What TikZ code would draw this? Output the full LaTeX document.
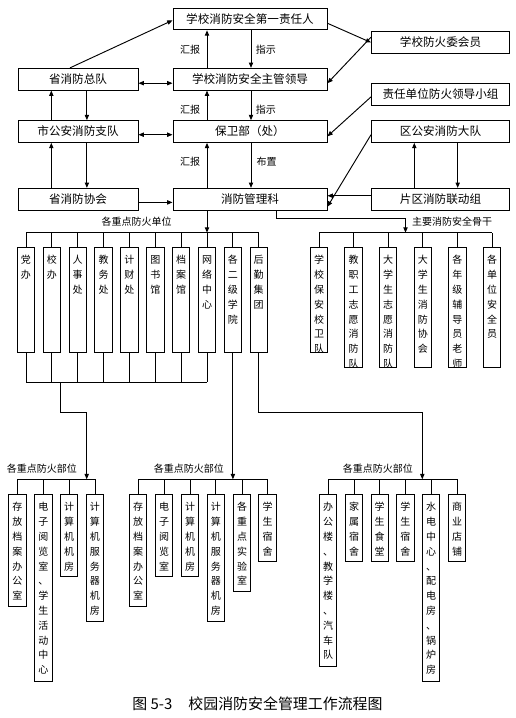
\documentclass[tikz,border=0pt]{standalone}
\usepackage{fontspec}
\setmainfont{Noto Sans CJK SC}
\usetikzlibrary{arrows.meta}

\tikzset{
  box/.style={draw, line width=0.7pt, inner sep=0pt, minimum height=16.3pt, font=\fontsize{8.7}{10}\selectfont},
  midbox/.style={box, minimum width=115.5pt},
  leftbox/.style={box, minimum width=90pt},
  rightbox/.style={box, minimum width=103.5pt},
  vbox/.style={draw, line width=0.7pt, anchor=north, inner sep=0pt, minimum width=13pt,
    font=\fontsize{7.5}{11.1}\selectfont, text height=12.1pt, text depth=#1*0.75pt-12.1pt,
    execute at begin node={\vtop\bgroup\hsize=10pt\parindent=0pt\centering},
    execute at end node={\par\egroup}},
  tag/.style={inner sep=0pt, font=\fontsize{7.5}{9}\selectfont},
  link/.style={line width=0.7pt, -{Triangle[length=4pt,width=3.2pt]}},
  both/.style={line width=0.7pt, {Triangle[length=4pt,width=3.2pt]}-{Triangle[length=4pt,width=3.2pt]}},
  bus/.style={line width=0.7pt},
}

\begin{document}
\begin{tikzpicture}[x=0.75pt,y=0.75pt,yscale=-1,xscale=1]
\useasboundingbox (0,0) rectangle (516,718);

%top boxes
\node[midbox] (first) at (250,19) {学校消防安全第一责任人};
\node[rightbox] (wei) at (440.5,42.5) {学校防火委会员};
\node[leftbox] (zongdui) at (78,79.2) {省消防总队};
\node[midbox] (zhuguan) at (250,79.2) {学校消防安全主管领导};
\node[rightbox] (xiaozu) at (440.5,94.2) {责任单位防火领导小组};
\node[leftbox] (zhidui) at (78,131.5) {市公安消防支队};
\node[midbox] (baowei) at (250,131.5) {保卫部（处）};
\node[rightbox] (dadui) at (440.5,131.5) {区公安消防大队};
\node[leftbox] (xiehui) at (78,199.2) {省消防协会};
\node[midbox] (guanli) at (250,199.2) {消防管理科};
\node[rightbox] (liandong) at (440.5,199.2) {片区消防联动组};

%labels
\node[tag] (hb1) at (190,49.5) {汇报};
\node[tag] (zs1) at (265.8,49.5) {指示};
\node[tag] (hb2) at (190,110) {汇报};
\node[tag] (zs2) at (265.8,110) {指示};
\node[tag] (hb3) at (190,161.7) {汇报};
\node[tag] (bz3) at (266.7,161.7) {布置};
\node[tag] (danwei) at (136.7,221.7) {各重点防火单位};
\node[tag] (gugan) at (452.2,221.7) {主要消防安全骨干};
\node[tag] (buwei1) at (42,469) {各重点防火部位};
\node[tag] (buwei2) at (188.8,469) {各重点防火部位};
\node[tag] (buwei3) at (377.8,469) {各重点防火部位};

%units
\node[vbox=105] (d1) at (26,247.3) {党\\办};
\node[vbox=105] (d2) at (51.9,247.3) {校\\办};
\node[vbox=105] (d3) at (77.7,247.3) {人\\事\\处};
\node[vbox=105] (d4) at (103.6,247.3) {教\\务\\处};
\node[vbox=105] (d5) at (129.4,247.3) {计\\财\\处};
\node[vbox=105] (d6) at (155.3,247.3) {图\\书\\馆};
\node[vbox=105] (d7) at (181.2,247.3) {档\\案\\馆};
\node[vbox=105] (d8) at (207,247.3) {网\\络\\中\\心};
\node[vbox=105] (d9) at (232.9,247.3) {各\\二\\级\\学\\院};
\node[vbox=105] (d10) at (258.7,247.3) {后\\勤\\集\\团};

%backbone
\node[vbox=105] (g1) at (319,247.3) {学\\校\\保\\安\\校\\卫\\队};
\node[vbox=120] (g2) at (353.6,247.3) {教\\职\\工\\志\\愿\\消\\防\\队};
\node[vbox=120] (g3) at (388.2,247.3) {大\\学\\生\\志\\愿\\消\\防\\队};
\node[vbox=120] (g4) at (422.8,247.3) {大\\学\\生\\消\\防\\协\\会};
\node[vbox=120] (g5) at (457.4,247.3) {各\\年\\级\\辅\\导\\员\\老\\师};
\node[vbox=120] (g6) at (492,247.3) {各\\单\\位\\安\\全\\员};

%parts, left
\node[vbox=111.7] (a1) at (17.5,494.3) {存\\放\\档\\案\\办\\公\\室};
\node[vbox=186.7] (a2) at (43.3,494.3) {电\\子\\阅\\览\\室\\、\\学\\生\\活\\动\\中\\心};
\node[vbox=81.7] (a3) at (69,494.3) {计\\算\\机\\机\\房};
\node[vbox=126.7] (a4) at (95,494.3) {计\\算\\机\\服\\务\\器\\机\\房};
%parts, middle
\node[vbox=111.7] (b1) at (138,494.3) {存\\放\\档\\案\\办\\公\\室};
\node[vbox=81.7] (b2) at (164,494.3) {电\\子\\阅\\览\\室};
\node[vbox=81.7] (b3) at (190,494.3) {计\\算\\机\\机\\房};
\node[vbox=126.7] (b4) at (215.8,494.3) {计\\算\\机\\服\\务\\器\\机\\房};
\node[vbox=96.7] (b5) at (242,494.3) {各\\重\\点\\实\\验\\室};
\node[vbox=66.7] (b6) at (267.5,494.3) {学\\生\\宿\\舍};
%parts, right
\node[vbox=171.7] (c1) at (328,494.3) {办\\公\\楼\\、\\教\\学\\楼\\、\\汽\\车\\队};
\node[vbox=66.7] (c2) at (354,494.3) {家\\属\\宿\\舍};
\node[vbox=66.7] (c3) at (379.7,494.3) {学\\生\\食\\堂};
\node[vbox=66.7] (c4) at (405.3,494.3) {学\\生\\宿\\舍};
\node[vbox=186.7] (c5) at (431,494.3) {水\\电\\中\\心\\、\\配\\电\\房\\、\\锅\\炉\\房};
\node[vbox=66.7] (c6) at (457,494.3) {商\\业\\店\\铺};

\node[inner sep=0pt, font=\fontsize{11.2}{13}\selectfont] (cap) at (257.5,703.3) {图 5-3\hspace{12pt}校园消防安全管理工作流程图};

%guide lines
\coordinate (hb) at (207,0);
\coordinate (zs) at (251,0);
\coordinate (up) at (51.3,0);
\coordinate (dn) at (86.9,0);
\coordinate (rup) at (414.3,0);
\coordinate (rdn) at (457.7,0);

%middle column
\draw[link] (zhuguan.north -| hb) -- (first.south -| hb);
\draw[link] (first.south -| zs) -- (zhuguan.north -| zs);
\draw[link] (baowei.north -| hb) -- (zhuguan.south -| hb);
\draw[link] (zhuguan.south -| zs) -- (baowei.north -| zs);
\draw[link] (guanli.north -| hb) -- (baowei.south -| hb);
\draw[link] (baowei.south -| zs) -- (guanli.north -| zs);

%left column
\draw[link] (zhidui.north -| up) -- (zongdui.south -| up);
\draw[link] (zongdui.south -| dn) -- (zhidui.north -| dn);
\draw[link] (xiehui.north -| up) -- (zhidui.south -| up);
\draw[link] (zhidui.south -| dn) -- (xiehui.north -| dn);

%right column
\draw[link] (liandong.north -| rup) -- (dadui.south -| rup);
\draw[link] (dadui.south -| rdn) -- (liandong.north -| rdn);

%across
\draw[both] ([yshift=3pt]zongdui.east) -- ([yshift=3pt]zhuguan.west);
\draw[both] ([yshift=2.4pt]zhidui.east) -- ([yshift=2.4pt]baowei.west);
\draw[link] ([yshift=2.4pt]xiehui.east) -- ([yshift=2.4pt]guanli.west);
\draw[link] ([yshift=-2.6pt]liandong.west) -- ([yshift=-2.6pt]guanli.east);

%slanted
\draw[link] ([xshift=-6pt]zongdui.north) -- ([yshift=1pt]first.west);
\draw[link] ([yshift=3.2pt]first.east) -- (wei.west);
\draw[link] ([yshift=-4pt]wei.west) -- ([yshift=3pt]zhuguan.east);
\draw[link] ([yshift=2pt]xiaozu.west) -- ([yshift=3.6pt]baowei.east);
\draw[link] ([yshift=2.4pt]dadui.west) -- ([yshift=5.6pt]guanli.east);

%bus to units
\coordinate (busA) at (207,232.7);
\draw[link] (guanli.south -| busA) -- (busA);
\draw[bus] (d1.north |- busA) -- (d10.north |- busA);
\draw[bus] (d1.north) -- (d1.north |- busA);
\draw[bus] (d2.north) -- (d2.north |- busA);
\draw[bus] (d3.north) -- (d3.north |- busA);
\draw[bus] (d4.north) -- (d4.north |- busA);
\draw[bus] (d5.north) -- (d5.north |- busA);
\draw[bus] (d6.north) -- (d6.north |- busA);
\draw[bus] (d7.north) -- (d7.north |- busA);
\draw[bus] (d8.north) -- (d8.north |- busA);
\draw[bus] (d9.north) -- (d9.north |- busA);
\draw[bus] (d10.north) -- (d10.north |- busA);

%bus to backbone
\coordinate (kneeB) at (276.7,218.3);
\coordinate (busB) at (405.5,232.7);
\draw[link] (guanli.south -| kneeB) -- (kneeB) -| (busB);
\draw[bus] (g1.north |- busB) -- (g6.north |- busB);
\draw[bus] (g1.north) -- (g1.north |- busB);
\draw[bus] (g2.north) -- (g2.north |- busB);
\draw[bus] (g3.north) -- (g3.north |- busB);
\draw[bus] (g4.north) -- (g4.north |- busB);
\draw[bus] (g5.north) -- (g5.north |- busB);
\draw[bus] (g6.north) -- (g6.north |- busB);

%units down to parts
\coordinate (busC) at (60.7,382.3);
\coordinate (kneeC) at (60.7,412.3);
\coordinate (busL) at (86.7,479.3);
\coordinate (busM) at (232.9,479.3);
\coordinate (busR) at (422.3,479.3);
\draw[bus] (d1.south |- busC) -- (d8.south |- busC);
\draw[bus] (d1.south) -- (d1.south |- busC);
\draw[bus] (d2.south) -- (d2.south |- busC);
\draw[bus] (d3.south) -- (d3.south |- busC);
\draw[bus] (d4.south) -- (d4.south |- busC);
\draw[bus] (d5.south) -- (d5.south |- busC);
\draw[bus] (d6.south) -- (d6.south |- busC);
\draw[bus] (d7.south) -- (d7.south |- busC);
\draw[bus] (d8.south) -- (d8.south |- busC);
\draw[link] (busC) -- (kneeC) -| (busL);
\draw[link] (d9.south) -- (busM);
\draw[link] (d10.south) -- (d10.south |- kneeC) -| (busR);

%bus to parts
\draw[bus] (a1.north |- busL) -- (a4.north |- busL);
\draw[bus] (a1.north) -- (a1.north |- busL);
\draw[bus] (a2.north) -- (a2.north |- busL);
\draw[bus] (a3.north) -- (a3.north |- busL);
\draw[bus] (a4.north) -- (a4.north |- busL);
\draw[bus] (b1.north |- busM) -- (b6.north |- busM);
\draw[bus] (b1.north) -- (b1.north |- busM);
\draw[bus] (b2.north) -- (b2.north |- busM);
\draw[bus] (b3.north) -- (b3.north |- busM);
\draw[bus] (b4.north) -- (b4.north |- busM);
\draw[bus] (b5.north) -- (b5.north |- busM);
\draw[bus] (b6.north) -- (b6.north |- busM);
\draw[bus] (c1.north |- busR) -- (c6.north |- busR);
\draw[bus] (c1.north) -- (c1.north |- busR);
\draw[bus] (c2.north) -- (c2.north |- busR);
\draw[bus] (c3.north) -- (c3.north |- busR);
\draw[bus] (c4.north) -- (c4.north |- busR);
\draw[bus] (c5.north) -- (c5.north |- busR);
\draw[bus] (c6.north) -- (c6.north |- busR);

\end{tikzpicture}
\end{document}
